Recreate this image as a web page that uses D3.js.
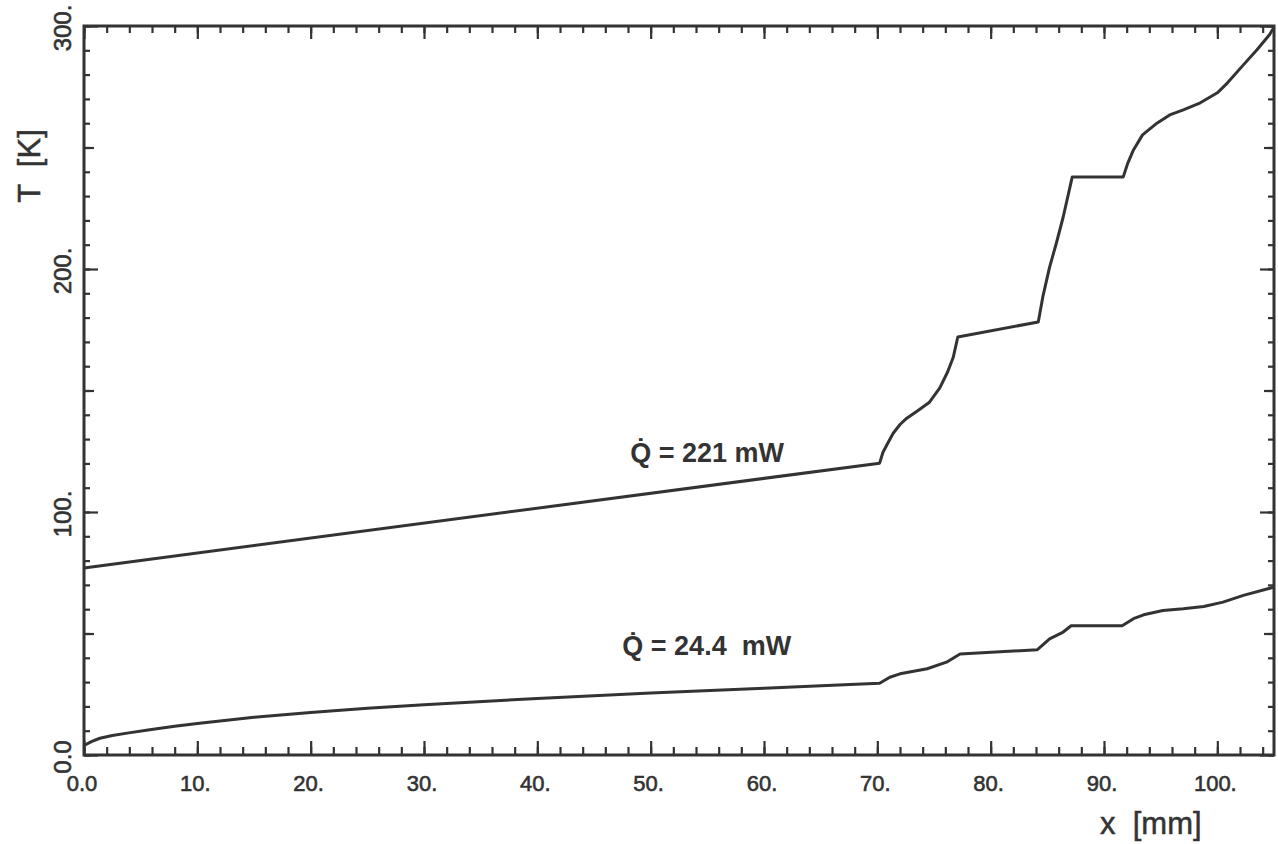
<!DOCTYPE html>
<html>
<head>
<meta charset="utf-8">
<script src="https://cdn.jsdelivr.net/npm/d3@7"></script>
<style>
  html, body { margin: 0; padding: 0; background: #fff; }
  svg { display: block; }
</style>
</head>
<body>
<svg id="chart" width="1278" height="844"></svg>
<script>
// ---- data ----
const xHigh = [0, 70.2, 70.5, 71.0, 71.4, 72.0, 72.6, 73.5, 74.6, 75.5, 76.2, 76.7, 77.1, 84.2, 84.6, 85.2, 85.8, 86.4, 87.0, 87.2, 91.7, 92.1, 92.6, 93.4, 94.7, 95.8, 97.0, 98.5, 100.0, 100.9, 102.3, 103.5, 104.6, 105];
const tHigh = [77, 120.1, 124.6, 129, 132.4, 136, 138.6, 141.5, 145.2, 151.0, 157.6, 163.7, 172.0, 178.2, 188.5, 200.8, 210.7, 221.4, 233.8, 237.9, 237.9, 243.6, 249.0, 255.2, 260.1, 263.4, 265.5, 268.4, 272.5, 276.6, 284.0, 290.2, 296.4, 299.5];

const xLow = [0, 0.7, 1.4, 2.5, 3.8, 5.8, 8, 10, 15, 20, 25, 30, 40, 50, 60, 67.6, 70.2, 71.1, 72.0, 74.4, 76.1, 77.3, 84.1, 85.2, 86.4, 87.1, 91.6, 92.6, 93.5, 95.2, 97.0, 98.8, 100.5, 102.3, 105];
const tLow = [3.9, 5.6, 6.9, 8.0, 9.0, 10.4, 11.8, 13.0, 15.5, 17.5, 19.2, 20.7, 23.3, 25.5, 27.5, 29.0, 29.5, 32.0, 33.4, 35.5, 38.2, 41.6, 43.3, 47.8, 50.6, 53.2, 53.2, 56.1, 57.7, 59.5, 60.2, 61.1, 62.9, 65.7, 69.1];

const xTickValues = [0, 10, 20, 30, 40, 50, 60, 70, 80, 90, 100];
const xTickLabels = ["0.0", "10.", "20.", "30.", "40.", "50.", "60.", "70.", "80.", "90.", "100."];
const yTickValues = [0, 100, 200, 300];
const yTickLabels = ["0.0", "100.", "200.", "300."];

const seriesLabels = ["Q\u0307 = 221 mW", "Q\u0307 = 24.4  mW"];
const labelPos = [[48.2, 120.5], [47.5, 41]];

const xTitle = "x  [mm]";
const yTitle = "T  [K]";

// ---- layout ----
const ink = "#333";
const svg = d3.select("#chart");
const x = d3.scaleLinear().domain([0, 105]).range([84, 1274]);
const y = d3.scaleLinear().domain([0, 300]).range([755, 26]);

const tickStyle = g => {
  g.select(".domain").remove();
  g.selectAll("line").attr("stroke", ink).attr("stroke-width", 2.2);
  g.selectAll("text").remove();
};

const xMinor = d3.range(0, 106, 2);
const yMinor = d3.range(0, 301, 10);
const yMed = d3.range(50, 300, 100);

// bottom
svg.append("g").attr("transform", `translate(0,${y(0)})`)
  .call(d3.axisBottom(x).tickValues(xMinor).tickSize(-8)).call(tickStyle);
svg.append("g").attr("transform", `translate(0,${y(0)})`)
  .call(d3.axisBottom(x).tickValues(xTickValues).tickSize(-14)).call(tickStyle);
// top
svg.append("g").attr("transform", `translate(0,${y(300)})`)
  .call(d3.axisTop(x).tickValues(xMinor).tickSize(-7)).call(tickStyle);
svg.append("g").attr("transform", `translate(0,${y(300)})`)
  .call(d3.axisTop(x).tickValues(xTickValues).tickSize(-13)).call(tickStyle);
// left
svg.append("g").attr("transform", `translate(${x(0)},0)`)
  .call(d3.axisLeft(y).tickValues(yMinor).tickSize(-6)).call(tickStyle);
svg.append("g").attr("transform", `translate(${x(0)},0)`)
  .call(d3.axisLeft(y).tickValues(yMed).tickSize(-10)).call(tickStyle);
svg.append("g").attr("transform", `translate(${x(0)},0)`)
  .call(d3.axisLeft(y).tickValues(yTickValues).tickSize(-14)).call(tickStyle);
// right
svg.append("g").attr("transform", `translate(${x(105)},0)`)
  .call(d3.axisRight(y).tickValues(yMinor).tickSize(-6)).call(tickStyle);
svg.append("g").attr("transform", `translate(${x(105)},0)`)
  .call(d3.axisRight(y).tickValues(yMed).tickSize(-10)).call(tickStyle);
svg.append("g").attr("transform", `translate(${x(105)},0)`)
  .call(d3.axisRight(y).tickValues(yTickValues).tickSize(-14)).call(tickStyle);

// frame
svg.append("rect")
  .attr("x", x(0)).attr("y", y(300))
  .attr("width", x(105) - x(0)).attr("height", y(0) - y(300))
  .attr("fill", "none").attr("stroke", ink).attr("stroke-width", 3);

// tick labels
const labelFont = "'Liberation Sans', Arial, sans-serif";
svg.append("g").selectAll("text").data(xTickValues).join("text")
  .attr("x", d => x(d) - 2).attr("y", 791)
  .attr("text-anchor", "middle")
  .attr("font-family", labelFont).attr("font-size", 22)
  .attr("fill", ink).attr("stroke", ink).attr("stroke-width", 0.6)
  .text((d, i) => xTickLabels[i]);

svg.append("g").selectAll("text").data(yTickValues).join("text")
  .attr("transform", d => `translate(71,${y(d) + 2}) rotate(-90)`)
  .attr("text-anchor", "middle")
  .attr("font-family", labelFont).attr("font-size", 24)
  .attr("fill", ink).attr("stroke", ink).attr("stroke-width", 0.6)
  .text((d, i) => yTickLabels[i]);

// axis titles
svg.append("text")
  .attr("x", 1100).attr("y", 834)
  .attr("font-family", labelFont).attr("font-size", 31)
  .attr("fill", ink).attr("stroke", ink).attr("stroke-width", 0.5).style("white-space", "pre")
  .text(xTitle);
svg.append("text")
  .attr("transform", "translate(40,166) rotate(-90)")
  .attr("text-anchor", "middle")
  .attr("font-family", labelFont).attr("font-size", 31)
  .attr("fill", ink).attr("stroke", ink).attr("stroke-width", 0.5).style("white-space", "pre")
  .text(yTitle);

// curves
const line = d3.line().x(d => x(d[0])).y(d => y(d[1]));
const high = xHigh.map((v, i) => [v, tHigh[i]]);
const low = xLow.map((v, i) => [v, tLow[i]]);
svg.append("path").datum(high).attr("d", line)
  .attr("fill", "none").attr("stroke", ink).attr("stroke-width", 3).attr("stroke-linejoin", "round");
svg.append("path").datum(low).attr("d", line)
  .attr("fill", "none").attr("stroke", ink).attr("stroke-width", 3).attr("stroke-linejoin", "round");

// annotations
svg.append("g").selectAll("text").data(seriesLabels).join("text")
  .attr("x", (d, i) => x(labelPos[i][0]))
  .attr("y", (d, i) => y(labelPos[i][1]))
  .attr("font-family", labelFont).attr("font-size", 27).attr("font-weight", "bold")
  .attr("fill", ink).style("white-space", "pre")
  .text(d => d);
</script>
</body>
</html>
